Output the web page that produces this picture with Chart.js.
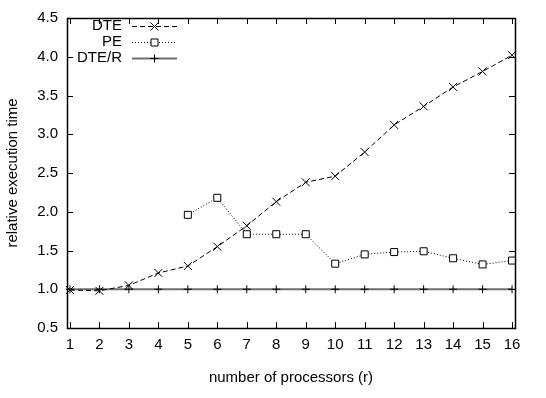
<!DOCTYPE html>
<html>
<head>
<meta charset="utf-8">
<title>relative execution time</title>
<script src="https://cdn.jsdelivr.net/npm/chart.js@4.4.1/dist/chart.umd.min.js"></script>
<style>
    html, body { margin: 0; padding: 0; background: #fff; }
    #chart { display: block; }
</style>
</head>
<body>
<canvas id="chart" width="546" height="398"></canvas>
<script>
// datos
const processors = [1, 2, 3, 4, 5, 6, 7, 8, 9, 10, 11, 12, 13, 14, 15, 16];
const dteTimes = [0.99, 0.98, 1.05, 1.21, 1.30, 1.55, 1.82, 2.13, 2.38, 2.46, 2.77, 3.12, 3.36, 3.61, 3.81, 4.02];
const peProcessors = [5, 6, 7, 8, 9, 10, 11, 12, 13, 14, 15, 16];
const peTimes = [1.96, 2.18, 1.71, 1.71, 1.71, 1.33, 1.45, 1.48, 1.49, 1.40, 1.32, 1.37];
const dterTimes = [1, 1, 1, 1, 1, 1, 1, 1, 1, 1, 1, 1, 1, 1, 1, 1];
const yTicks = [0.5, 1.0, 1.5, 2.0, 2.5, 3.0, 3.5, 4.0, 4.5];
const seriesNames = ["DTE", "PE", "DTE/R"];

(function () {
    "use strict";

    const FONT = "'Liberation Sans', Arial, sans-serif";
    Chart.defaults.font.family = FONT;
    Chart.defaults.font.size = 15;
    Chart.defaults.color = "#000";

    function toPoints(xs, ys) {
        return xs.map((x, i) => ({ x: x, y: ys[i] }));
    }

    // marcadores estilo gnuplot
    function drawMarker(ctx, style, x, y) {
        ctx.save();
        ctx.strokeStyle = "#000";
        ctx.lineWidth = 1;
        ctx.setLineDash([]);
        ctx.beginPath();
        if (style === "crossRot") {
            ctx.moveTo(x - 4, y - 4); ctx.lineTo(x + 4, y + 4);
            ctx.moveTo(x - 4, y + 4); ctx.lineTo(x + 4, y - 4);
        } else if (style === "cross") {
            ctx.moveTo(x - 4, y); ctx.lineTo(x + 4, y);
            ctx.moveTo(x, y - 4); ctx.lineTo(x, y + 4);
        } else {
            ctx.fillStyle = "#fff";
            ctx.rect(x - 3.5, y - 3.5, 7, 7);
            ctx.fill();
        }
        ctx.stroke();
        ctx.restore();
    }

    // marco, marcas hacia dentro y leyenda
    const framePlugin = {
        id: "gnuplotFrame",
        afterDatasetsDraw(chart) {
            const { ctx, chartArea: a, scales } = chart;
            const tick = 6;
            ctx.save();
            ctx.strokeStyle = "#000";
            ctx.lineWidth = 1;
            ctx.beginPath();
            processors.forEach(v => {
                const px = Math.round(scales.x.getPixelForValue(v)) + 0.5;
                ctx.moveTo(px, a.bottom); ctx.lineTo(px, a.bottom - tick);
                ctx.moveTo(px, a.top); ctx.lineTo(px, a.top + tick);
            });
            yTicks.forEach(v => {
                const py = Math.round(scales.y.getPixelForValue(v)) + 0.5;
                ctx.moveTo(a.left, py); ctx.lineTo(a.left + tick, py);
                ctx.moveTo(a.right, py); ctx.lineTo(a.right - tick, py);
            });
            ctx.stroke();
            ctx.lineWidth = 1.5;
            ctx.strokeRect(Math.round(a.left) + 0.5, Math.round(a.top) + 0.5,
                Math.round(a.right - a.left), Math.round(a.bottom - a.top));

            // leyenda
            const rows = [26, 42, 58];
            ctx.font = "15px " + FONT;
            ctx.textAlign = "right";
            ctx.textBaseline = "middle";
            chart.data.datasets.forEach((ds, i) => {
                const y = rows[i];
                ctx.fillStyle = "#000";
                ctx.fillText(ds.label, 122, y);
                ctx.beginPath();
                ctx.strokeStyle = ds.borderColor;
                ctx.lineWidth = ds.borderWidth;
                ctx.setLineDash(ds.borderDash || []);
                ctx.moveTo(132, y + 0.5); ctx.lineTo(177, y + 0.5);
                ctx.stroke();
                ctx.setLineDash([]);
                drawMarker(ctx, ds.pointStyle, 154.5, y + 0.5);
            });
            ctx.restore();
        }
    };

    const datasets = [
        {
            label: seriesNames[0],
            data: toPoints(processors, dteTimes),
            borderColor: "#000",
            borderWidth: 1,
            borderDash: [5, 3],
            pointStyle: "crossRot"
        },
        {
            label: seriesNames[1],
            data: toPoints(peProcessors, peTimes),
            borderColor: "#000",
            borderWidth: 1,
            borderDash: [1, 2],
            pointStyle: "rect"
        },
        {
            label: seriesNames[2],
            data: toPoints(processors, dterTimes),
            borderColor: "#6e6e6e",
            borderWidth: 2,
            pointStyle: "cross"
        }
    ];

    // los marcadores los dibuja el plugin encima de las lineas
    const markerPlugin = {
        id: "gnuplotMarkers",
        afterDatasetsDraw(chart) {
            const ctx = chart.ctx;
            chart.data.datasets.forEach((ds, i) => {
                chart.getDatasetMeta(i).data.forEach(pt => {
                    drawMarker(ctx, ds.pointStyle, pt.x, pt.y);
                });
            });
        }
    };

    new Chart(document.getElementById("chart"), {
        type: "line",
        data: { datasets: datasets },
        options: {
            responsive: false,
            animation: false,
            devicePixelRatio: 1,
            layout: { padding: { top: 12, right: 31, left: 0, bottom: 0 } },
            elements: {
                line: { tension: 0, fill: false },
                point: { radius: 0, hoverRadius: 0 }
            },
            plugins: {
                legend: { display: false },
                tooltip: { enabled: false }
            },
            scales: {
                x: {
                    type: "linear",
                    min: 0.9,
                    max: 16.1,
                    afterBuildTicks: s => { s.ticks = processors.map(v => ({ value: v })); },
                    afterFit: s => { s.height = 70; },
                    grid: { display: false, drawTicks: false },
                    border: { display: false },
                    ticks: { padding: 8, autoSkip: false, maxRotation: 0 },
                    title: {
                        display: true,
                        text: "number of processors (r)",
                        padding: { top: 0, bottom: 11 }
                    }
                },
                y: {
                    min: 0.5,
                    max: 4.5,
                    afterBuildTicks: s => { s.ticks = yTicks.map(v => ({ value: v })); },
                    afterFit: s => { s.width = 67; },
                    grid: { display: false, drawTicks: false },
                    border: { display: false },
                    ticks: { padding: 9, callback: v => v.toFixed(1) },
                    title: {
                        display: true,
                        text: "relative execution time",
                        padding: { top: 4, bottom: 0 }
                    }
                }
            }
        },
        plugins: [markerPlugin, framePlugin]
    });
})();
</script>
</body>
</html>
